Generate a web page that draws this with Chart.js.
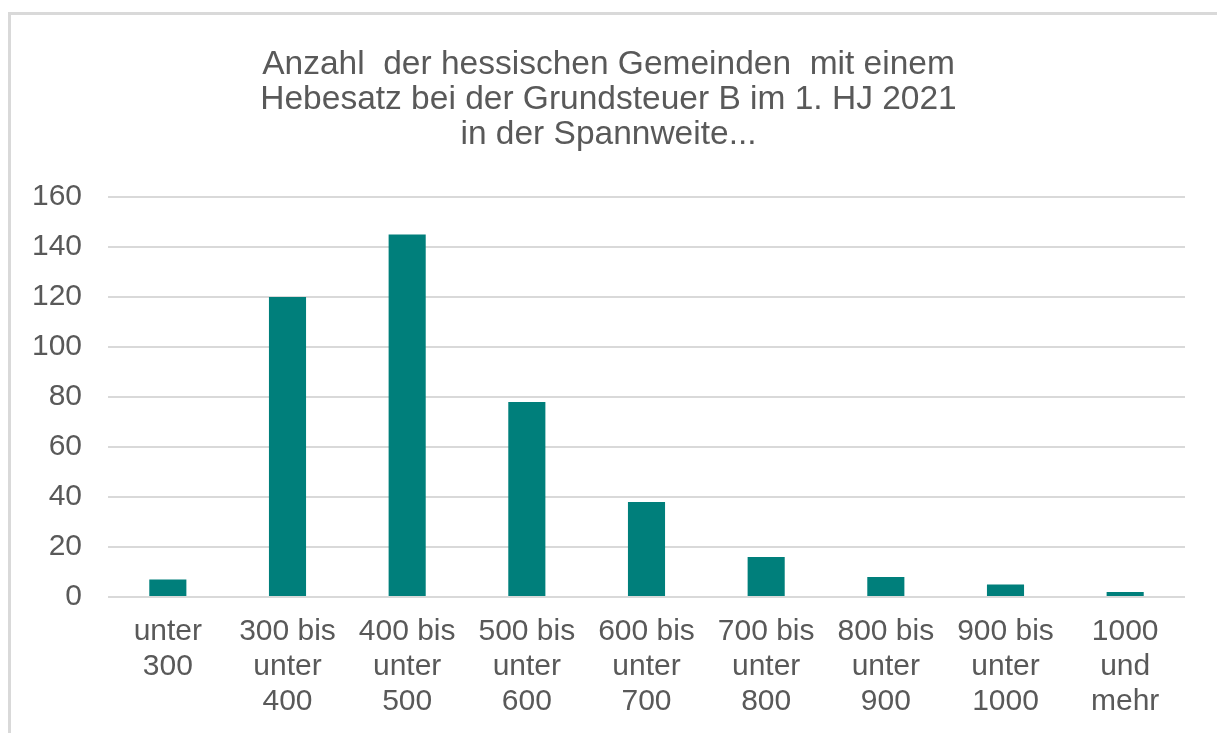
<!DOCTYPE html>
<html>
<head>
<meta charset="utf-8">
<script src="https://cdn.jsdelivr.net/npm/chart.js@4/dist/chart.umd.min.js"></script>
<style>
  body { margin: 0; background: #fff; overflow: hidden; }
  #frame {
    position: absolute; left: 8px; top: 12px; width: 1400px; height: 900px;
    border-top: 3px solid #d9d9d9; border-left: 3px solid #d9d9d9;
  }
  #graph { position: absolute; left: 0; top: 0; }
</style>
</head>
<body>
<div id="frame"></div>
<canvas id="graph" width="1217" height="733"></canvas>
<script>
// categories (multi-line labels, as in the original)
const categories = [
  ['unter', '300'],
  ['300 bis', 'unter', '400'],
  ['400 bis', 'unter', '500'],
  ['500 bis', 'unter', '600'],
  ['600 bis', 'unter', '700'],
  ['700 bis', 'unter', '800'],
  ['800 bis', 'unter', '900'],
  ['900 bis', 'unter', '1000'],
  ['1000', 'und', 'mehr']
];

// number of municipalities per range
const counts = [7, 120, 145, 78, 38, 16, 8, 5, 2];

const titleLines = [
  'Anzahl  der hessischen Gemeinden  mit einem',
  'Hebesatz bei der Grundsteuer B im 1. HJ 2021',
  'in der Spannweite...'
];

const yMin = 0;
const yMax = 160;
const yStep = 20;

window.onload = function () {
  loadChart(document.querySelector("#graph"));
}

function loadChart(element) {
  const font = "'Liberation Sans', Arial, sans-serif";
  const grey = "#595959";

  new Chart(element, {
    type: 'bar',
    data: {
      labels: categories,
      datasets: [{
        data: counts,
        backgroundColor: "#007f7b",
        barPercentage: 0.31,
        categoryPercentage: 1
      }]
    },
    options: {
      responsive: false,
      animation: false,
      layout: { padding: 0 },
      plugins: {
        legend: { display: false },
        tooltip: { enabled: false },
        title: {
          display: true,
          text: titleLines,
          color: grey,
          font: { family: font, size: 33.5, weight: 'normal', lineHeight: 35 / 33.5 },
          padding: { top: 47, bottom: 45 }
        }
      },
      scales: {
        x: {
          grid: { display: false, drawTicks: false },
          border: { display: false },
          ticks: {
            color: grey,
            padding: 17,
            maxRotation: 0,
            autoSkip: false,
            font: { family: font, size: 30, lineHeight: 35 / 30 }
          },
          afterFit: function (scale) { scale.height = 136; }
        },
        y: {
          min: yMin,
          max: yMax,
          grid: { color: "#d9d9d9", lineWidth: 2, drawTicks: false },
          border: { display: false },
          ticks: {
            stepSize: yStep,
            color: grey,
            padding: 26,
            font: { family: font, size: 30 }
          },
          afterFit: function (scale) { scale.width = 108; }
        },
        // empty right-hand spacer so the title is centred on the whole canvas
        spacer: {
          position: 'right',
          grid: { display: false, drawTicks: false },
          border: { display: false },
          ticks: { display: false },
          afterFit: function (scale) { scale.width = 32; }
        }
      }
    }
  });
}
</script>
</body>
</html>
